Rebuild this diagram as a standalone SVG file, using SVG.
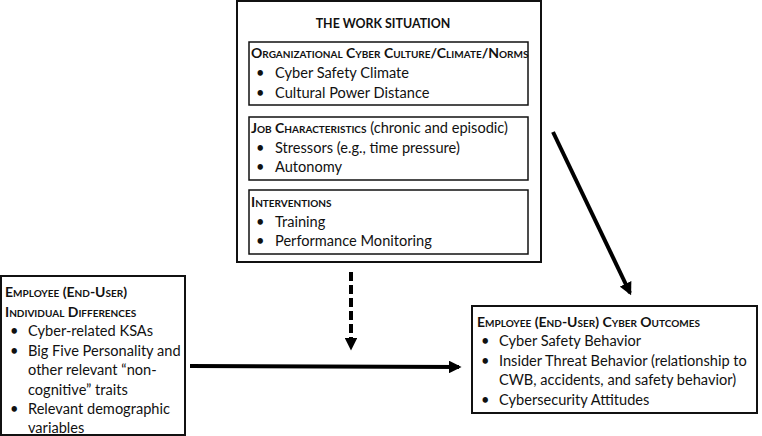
<svg xmlns="http://www.w3.org/2000/svg" width="762" height="436" viewBox="0 0 762 436">
<defs>
<style>
text{font-family:"Lato","Open Sans","Liberation Sans",sans-serif;font-size:14.6px;fill:#111}
.h{font-weight:bold;font-variant:small-caps;font-size:14px}
.t{font-weight:bold;font-size:12.4px}
.box{fill:#fff;stroke:#111;stroke-width:2}
.ibox{fill:#fff;stroke:#111;stroke-width:1.5}
.c{fill:none;stroke:#000;stroke-width:4}
</style>
<marker id="ah" viewBox="0 0 10 10" refX="8" refY="5" markerWidth="3.2" markerHeight="3.2" orient="auto" markerUnits="strokeWidth">
<path d="M0,0 L10,5 L0,10 Z" fill="#000"/>
</marker>
</defs>
<g id="work-situation">
<rect class="box" x="237" y="1" width="304" height="261"/>
<text class="t" x="383" y="28" text-anchor="middle">THE WORK SITUATION</text>
<g id="org-culture">
<rect class="ibox" x="249" y="42" width="279" height="63"/>
<text class="h" x="251" y="58">Organizational Cyber Culture/Climate/Norms</text>
<text x="256" y="78">•</text><text x="275" y="78">Cyber Safety Climate</text>
<text x="256" y="98">•</text><text x="275" y="98">Cultural Power Distance</text>
</g>
<g id="job-characteristics">
<rect class="ibox" x="249" y="117" width="279" height="63"/>
<text x="251" y="133"><tspan class="h">Job Characteristics</tspan> (chronic and episodic)</text>
<text x="256" y="153">•</text><text x="275" y="153">Stressors (e.g., time pressure)</text>
<text x="256" y="172">•</text><text x="275" y="172">Autonomy</text>
</g>
<g id="interventions">
<rect class="ibox" x="249" y="190" width="279" height="64"/>
<text class="h" x="251" y="207">Interventions</text>
<text x="256" y="227">•</text><text x="275" y="227">Training</text>
<text x="256" y="246">•</text><text x="275" y="246">Performance Monitoring</text>
</g>
</g>
<g id="individual-differences">
<rect class="box" x="1" y="276" width="184" height="159"/>
<text class="h" x="5" y="297">Employee (End-User)</text>
<text class="h" x="5" y="317">Individual Differences</text>
<text x="10" y="336">•</text><text x="28" y="336">Cyber-related KSAs</text>
<text x="10" y="356">•</text><text x="28" y="356">Big Five Personality and</text>
<text x="28" y="375">other relevant “non-</text>
<text x="28" y="395">cognitive” traits</text>
<text x="10" y="414">•</text><text x="28" y="414">Relevant demographic</text>
<text x="28" y="433">variables</text>
</g>
<g id="cyber-outcomes">
<rect class="box" x="472" y="306" width="285" height="107"/>
<text class="h" x="477" y="327">Employee (End-User) Cyber Outcomes</text>
<text x="481" y="346">•</text><text x="499" y="346">Cyber Safety Behavior</text>
<text x="481" y="366">•</text><text x="499" y="366">Insider Threat Behavior (relationship to</text>
<text x="499" y="385">CWB, accidents, and safety behavior)</text>
<text x="481" y="405">•</text><text x="499" y="405">Cybersecurity Attitudes</text>
</g>
<g id="connectors">
<line class="c" x1="190" y1="366" x2="459" y2="367" marker-end="url(#ah)"/>
<line class="c" x1="351" y1="272" x2="351" y2="348" stroke-dasharray="9,4" marker-end="url(#ah)"/>
<line class="c" x1="553" y1="132" x2="630" y2="293" marker-end="url(#ah)"/>
</g>
</svg>
